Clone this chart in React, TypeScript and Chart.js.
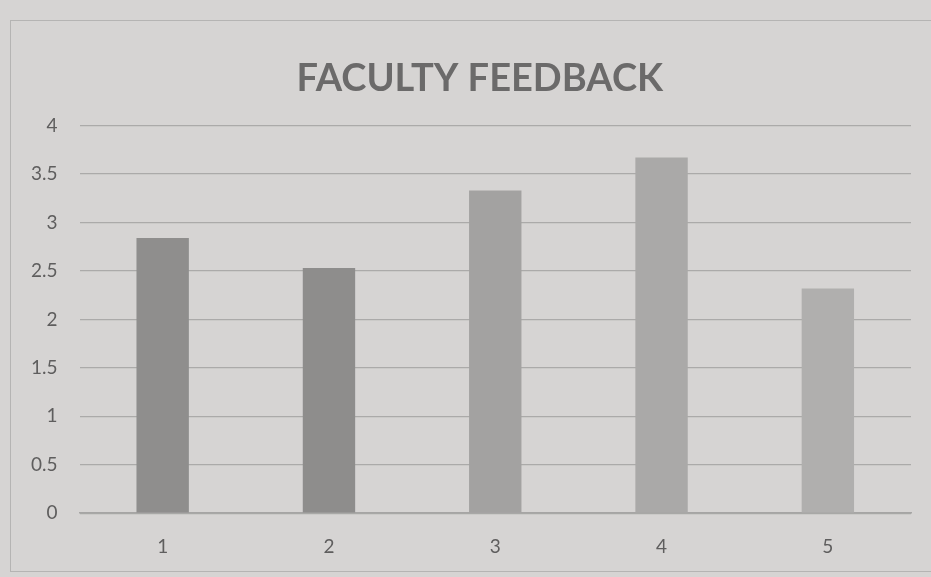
import React, { useEffect, useRef } from "react";
import { Chart, registerables } from "chart.js";

Chart.register(...registerables);

const categories = ["1", "2", "3", "4", "5"];
const scores = [2.84, 2.53, 3.33, 3.67, 2.32];
const barColors = ["#8f8e8d", "#8e8d8c", "#a3a2a1", "#aaa9a8", "#b0afae"];
const yTicks = [0, 0.5, 1, 1.5, 2, 2.5, 3, 3.5, 4];
const titleText = "FACULTY FEEDBACK";

const titleShift = {
  id: "titleShift",
  afterLayout(chart: any) {
    const t = chart.titleBlock;
    if (t) {
      t.left = chart.chartArea.left - 31;
      t.right = chart.chartArea.right;
    }
  },
};

export default function App() {
  const ref = useRef<HTMLCanvasElement | null>(null);

  useEffect(() => {
    document.body.style.margin = "0";
    const canvas = ref.current;
    if (!canvas) return;
    const chart = new Chart(canvas, {
      type: "bar",
      data: {
        labels: categories,
        datasets: [
          {
            label: "Score",
            data: scores,
            backgroundColor: barColors,
            borderWidth: 0,
            categoryPercentage: 1,
            barPercentage: 0.315,
          },
        ],
      },
      plugins: [titleShift],
      options: {
        responsive: false,
        animation: false,
        layout: { padding: { left: 9, right: 20, top: 56, bottom: 5 } },
        plugins: {
          legend: { display: false },
          tooltip: { enabled: false },
          title: {
            display: true,
            text: titleText,
            color: "#6b6a6a",
            font: { family: "Lato", size: 38, weight: "bold" },
            padding: { top: 0, bottom: 24 },
          },
        },
        scales: {
          x: {
            grid: { display: false },
            border: { display: true, color: "#a6a5a4", width: 1.5 },
            ticks: {
              color: "#5f5e5e",
              font: { family: "Lato", size: 19 },
              padding: 14,
            },
          },
          y: {
            min: 0,
            max: 4,
            afterBuildTicks: (axis: any) => {
              axis.ticks = yTicks.map((v) => ({ value: v }));
            },
            grid: { color: "#abaaa9", lineWidth: 1.3, drawTicks: false },
            border: { display: false },
            ticks: {
              color: "#5f5e5e",
              font: { family: "Lato", size: 19 },
              padding: 22,
              callback: (v: any) => String(v),
            },
          },
        },
      },
    });
    return () => chart.destroy();
  }, []);

  return (
    <div
      style={{
        position: "relative",
        width: 931,
        height: 577,
        background: "#d6d4d3",
        overflow: "hidden",
      }}
    >
      <div
        style={{
          position: "absolute",
          left: 10,
          top: 20,
          width: 940,
          height: 552,
          border: "1.5px solid #b5b4b3",
          boxSizing: "border-box",
        }}
      />
      <canvas
        ref={ref}
        width={931}
        height={577}
        style={{ position: "absolute", left: 0, top: 0 }}
      />
    </div>
  );
}
